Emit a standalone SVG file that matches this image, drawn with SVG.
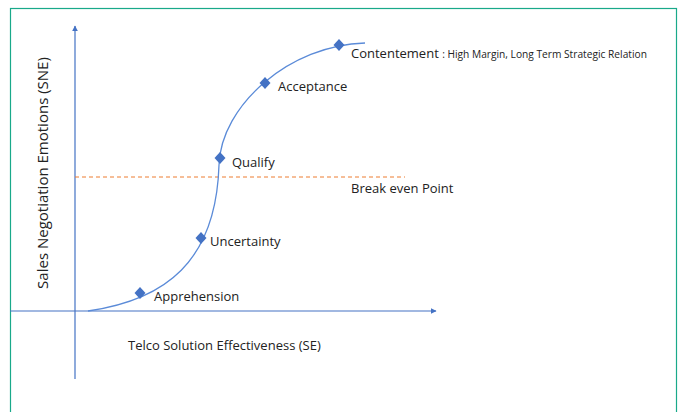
<svg xmlns="http://www.w3.org/2000/svg" width="678" height="412" viewBox="0 0 678 412">
<style>
.t{font-family:"Open Sans","Liberation Sans",sans-serif;font-size:13px;fill:#222}
.s{font-size:10.2px}
.ax{stroke:#4472c4;stroke-width:1.2;fill:none}
.pt{fill:#4472c4}
</style>
<defs>
<marker id="ah" viewBox="0 0 10 10" refX="9" refY="5" markerWidth="6" markerHeight="6" orient="auto" markerUnits="userSpaceOnUse"><path d="M0,0 L10,5 L0,10 z" fill="#4472c4"/></marker>
</defs>
<rect x="10.5" y="8.5" width="666" height="410" fill="#fff" stroke="#19a98a" stroke-width="1.2"/>
<g id="connectors">
<line class="ax" x1="75" y1="379" x2="75" y2="26" marker-end="url(#ah)"/>
<line class="ax" x1="10" y1="311" x2="436" y2="311" marker-end="url(#ah)"/>
<line x1="75" y1="177" x2="405" y2="177" stroke="#ed7d31" stroke-width="1" stroke-dasharray="4,3"/>
<path d="M88,311 C165,300 216,262 219,165 C221,105 290,45 365,43" fill="none" stroke="#5b8bd8" stroke-width="1.3"/>
</g>
<g id="apprehension"><path class="pt" d="M140,287 L145.5,293 L140,299 L134.5,293 z"/><text class="t" x="154" y="301">Apprehension</text></g>
<g id="uncertainty"><path class="pt" d="M201,232 L206.5,238 L201,244 L195.5,238 z"/><text class="t" x="210" y="246">Uncertainty</text></g>
<g id="qualify"><path class="pt" d="M220,152 L225.5,158 L220,164 L214.5,158 z"/><text class="t" x="232" y="167">Qualify</text></g>
<g id="acceptance"><path class="pt" d="M265,77 L270.5,83 L265,89 L259.5,83 z"/><text class="t" x="278" y="91">Acceptance</text></g>
<g id="contentement"><path class="pt" d="M339,39 L344.5,45 L339,51 L333.5,45 z"/><text class="t" x="351" y="58">Contentement <tspan class="s">: High Margin, Long Term Strategic Relation</tspan></text></g>
<g id="breakeven"><text class="t" x="351" y="193">Break even Point</text></g>
<g id="xlabel"><text class="t" x="128" y="350">Telco Solution Effectiveness (SE)</text></g>
<g id="ylabel"><text class="t" style="font-size:15px" transform="translate(48,173) rotate(-90)" text-anchor="middle">Sales Negotiation Emotions (SNE)</text></g>
</svg>
